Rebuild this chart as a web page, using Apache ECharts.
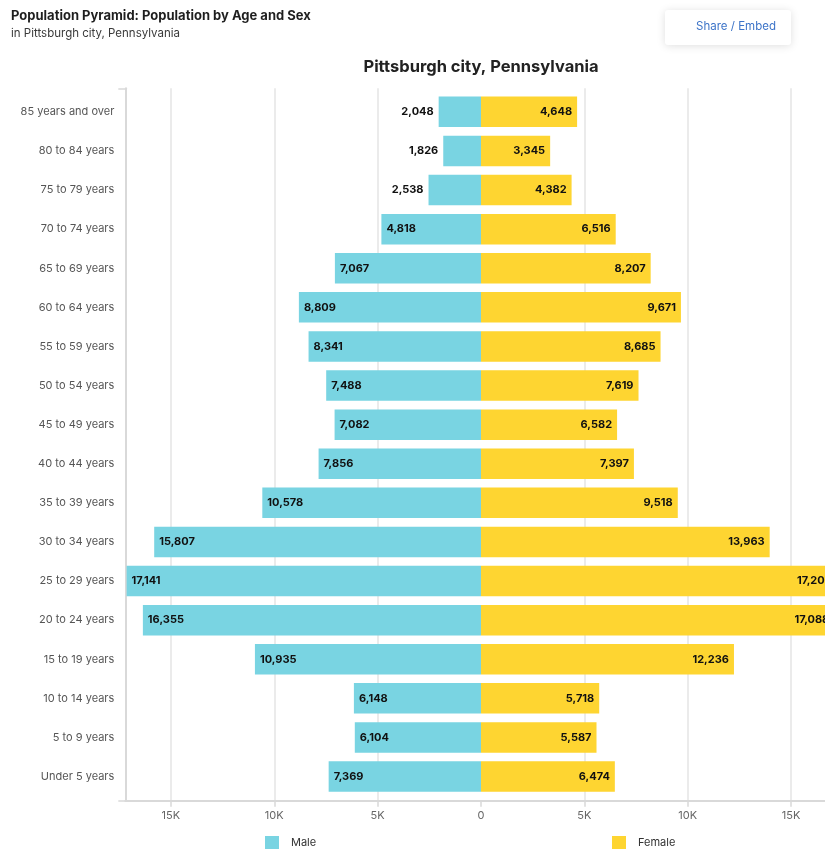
<!DOCTYPE html>
<html>
<head>
<meta charset="utf-8">
<title>Population Pyramid: Population by Age and Sex</title>
<script src="https://cdn.jsdelivr.net/npm/echarts@6/dist/echarts.min.js"></script>
<style>
  html, body { margin: 0; padding: 0; background: #ffffff; }
  #chart { width: 825px; height: 849px; }
</style>
</head>
<body>
<div id="chart"></div>
<script>
// Age groups, listed from the top of the pyramid down
const categories = [
  '85 years and over', '80 to 84 years', '75 to 79 years', '70 to 74 years',
  '65 to 69 years', '60 to 64 years', '55 to 59 years', '50 to 54 years',
  '45 to 49 years', '40 to 44 years', '35 to 39 years', '30 to 34 years',
  '25 to 29 years', '20 to 24 years', '15 to 19 years', '10 to 14 years',
  '5 to 9 years', 'Under 5 years'
];

// Population counts per age group
const maleValues = [
  2048, 1826, 2538, 4818, 7067, 8809, 8341, 7488, 7082,
  7856, 10578, 15807, 17141, 16355, 10935, 6148, 6104, 7369
];
const femaleValues = [
  4648, 3345, 4382, 6516, 8207, 9671, 8685, 7619, 6582,
  7397, 9518, 13963, 17205, 17088, 12236, 5718, 5587, 6474
];

const seriesNames = ['Male', 'Female'];
const gridTickValues = [-15000, -10000, -5000, 5000, 10000, 15000];

const FONT = 'Inter, "Noto Sans", "DejaVu Sans", sans-serif';
const MALE_COLOR = '#79d4e2';
const FEMALE_COLOR = '#fed531';
const AXIS_GRAY = '#d9d9d9';
const GRID_GRAY = '#e4e4e4';

// symmetric value range around zero
const extent = Math.max(...maleValues, ...femaleValues);
const fmt = v => Math.abs(v).toLocaleString('en-US');
const tickText = v => (v === 0 ? '0' : Math.abs(v / 1000) + 'K');

const chart = echarts.init(document.getElementById('chart'), null, { renderer: 'canvas' });

const valueLabel = {
  show: true,
  formatter: p => fmt(p.value),
  fontFamily: FONT,
  fontWeight: 'bold',
  fontSize: 11,
  color: '#111111',
  distance: 5
};

const legendBase = {
  top: 836, icon: 'rect', padding: 0,
  itemWidth: 14, itemHeight: 13, selectedMode: false,
  textStyle: { color: '#333333', fontSize: 11, fontFamily: FONT, padding: [0, 0, 0, 7] }
};

chart.setOption({
  animation: false,
  backgroundColor: '#ffffff',
  textStyle: { fontFamily: FONT },
  graphic: [
    {
      type: 'text', left: 11, top: 10,
      style: { text: 'Population Pyramid: Population by Age and Sex', fill: '#1f1f1f',
               font: 'bold 13px ' + FONT }
    },
    {
      type: 'text', left: 11, top: 28,
      style: { text: 'in Pittsburgh city, Pennsylvania', fill: '#3a3a3a',
               font: '11.5px ' + FONT }
    },
    {
      type: 'rect',
      shape: { x: 665, y: 10, width: 126, height: 35, r: 3 },
      style: { fill: '#ffffff', shadowColor: 'rgba(0,0,0,0.13)', shadowBlur: 8, shadowOffsetY: 1 }
    },
    {
      type: 'text', x: 736, y: 27,
      style: { text: 'Share / Embed', fill: '#3d74c8', font: '11.5px ' + FONT,
               align: 'center', verticalAlign: 'middle' }
    },
    {
      type: 'text', x: 481, y: 67,
      style: { text: 'Pittsburgh city, Pennsylvania', fill: '#222222',
               font: 'bold 16.5px ' + FONT, align: 'center', verticalAlign: 'middle' }
    }
  ],
  legend: [
    Object.assign({ data: [seriesNames[0]], left: 265 }, legendBase),
    Object.assign({ data: [seriesNames[1]], left: 612 }, legendBase)
  ],
  grid: [
    // bars
    { left: 125.3, top: 92.3, width: 711.4, height: 703.8, outerBoundsMode: 'none' },
    // axis frame and gridlines
    { left: 125.3, top: 88.3, width: 711.4, height: 712.4, outerBoundsMode: 'none' }
  ],
  xAxis: [
    { gridIndex: 0, type: 'value', min: -extent, max: extent, show: false },
    {
      gridIndex: 1, type: 'value', min: -extent, max: extent, splitNumber: 7,
      axisLine: { show: true, onZero: false, lineStyle: { color: AXIS_GRAY, width: 2 } },
      axisTick: { show: true, length: 6, lineStyle: { color: AXIS_GRAY, width: 1.5 } },
      axisLabel: {
        color: '#666666', fontSize: 11, fontFamily: FONT, margin: 9,
        showMinLabel: false, showMaxLabel: false, formatter: tickText
      },
      splitLine: { show: false }
    }
  ],
  yAxis: [
    {
      gridIndex: 0, type: 'category', data: categories, inverse: true,
      axisLine: { show: false },
      axisTick: { show: true, alignWithLabel: true, length: 7,
                  lineStyle: { color: AXIS_GRAY, width: 1.5 } },
      axisLabel: { color: '#555555', fontSize: 11, fontFamily: FONT, margin: 11 }
    },
    {
      gridIndex: 1, type: 'value', min: 0, max: 1, interval: 1,
      axisLine: { show: true, onZero: false, lineStyle: { color: AXIS_GRAY, width: 2 } },
      axisTick: { show: true, length: 7, lineStyle: { color: AXIS_GRAY, width: 1.5 } },
      axisLabel: { show: false },
      splitLine: { show: false }
    }
  ],
  series: [
    {
      // vertical gridlines behind the bars
      name: 'gridlines', type: 'line', xAxisIndex: 1, yAxisIndex: 1, data: [],
      silent: true, z: 0,
      markLine: {
        silent: true, z: 0, symbol: 'none', label: { show: false },
        lineStyle: { color: GRID_GRAY, width: 1.5, type: 'solid' },
        emphasis: { disabled: true },
        data: gridTickValues.map(v => ({ xAxis: v }))
      }
    },
    {
      name: seriesNames[0], type: 'bar', xAxisIndex: 0, yAxisIndex: 0, z: 3,
      barCategoryGap: '22%', barGap: '-100%',
      itemStyle: { color: MALE_COLOR },
      label: valueLabel,
      data: maleValues.map(v => ({
        value: -v,
        label: { position: v < 3000 ? 'left' : 'insideLeft' }
      }))
    },
    {
      name: seriesNames[1], type: 'bar', xAxisIndex: 0, yAxisIndex: 0, z: 3,
      barCategoryGap: '22%', barGap: '-100%',
      itemStyle: { color: FEMALE_COLOR },
      label: Object.assign({}, valueLabel, { position: 'insideRight' }),
      data: femaleValues.map(v => ({ value: v }))
    }
  ]
});
</script>
</body>
</html>
